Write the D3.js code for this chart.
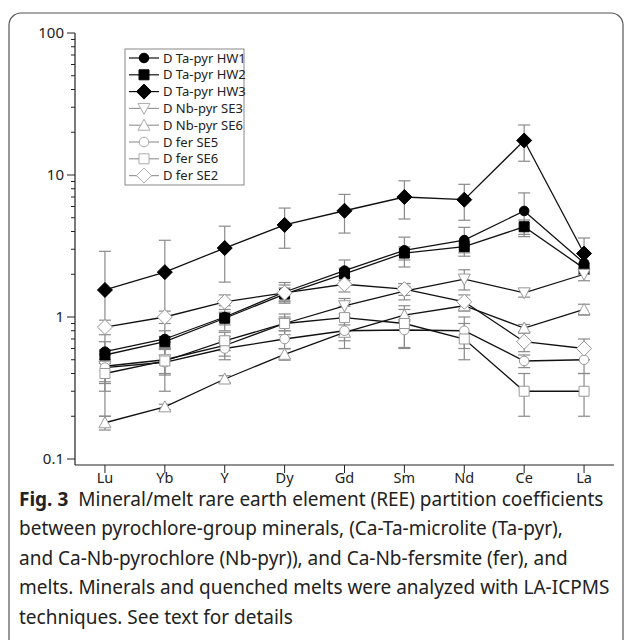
<!DOCTYPE html>
<html><head><meta charset="utf-8">
<script src="https://cdn.jsdelivr.net/npm/d3@7"></script>
<style>body{margin:0;background:#fff}svg{display:block}</style>
</head><body>
<script>
const elements = ["Lu","Yb","Y","Dy","Gd","Sm","Nd","Ce","La"];
const seriesNames = ["D Ta-pyr HW1","D Ta-pyr HW2","D Ta-pyr HW3","D Nb-pyr SE3","D Nb-pyr SE6","D fer SE5","D fer SE6","D fer SE2"];
const hw1 = [0.57,0.70,1.00,1.50,2.12,2.95,3.48,5.58,2.40];
const hw2 = [0.54,0.67,0.98,1.45,2.01,2.82,3.13,4.32,2.20];
const hw3 = [1.55,2.07,3.06,4.45,5.60,7.00,6.70,17.5,2.80];
const se3 = [0.45,0.50,0.63,0.90,1.20,1.52,1.85,1.48,2.00];
const se6nb = [0.18,0.233,0.366,0.546,0.78,1.03,1.20,0.836,1.13];
const ferSE5 = [0.44,0.48,0.60,0.70,0.80,0.81,0.80,0.49,0.50];
const ferSE6 = [0.40,0.49,0.68,0.90,0.99,0.90,0.70,0.30,0.30];
const ferSE2 = [0.85,1.00,1.28,1.48,1.70,1.57,1.28,0.67,0.60];
const errHW1 = [0.10,0.10,0.20,0.25,0.40,0.70,0.80,1.90,0.40];
const errHW2 = [0.05,0.06,0.10,0.15,0.20,0.30,0.30,0.50,0.20];
const errHW3 = [1.35,1.40,1.30,1.40,1.70,2.10,1.90,5.00,0.80];
const errSE3 = [0.10,0.10,0.10,0.15,0.15,0.20,0.30,0.10,0.20];
const errSE6nb = [0.02,0.01,0.02,0.05,0.10,0.10,0.10,0.05,0.10];
const errFerSE5 = [0.10,0.18,0.10,0.10,0.20,0.20,0.20,0.05,0.10];
const errFerSE6 = [0.10,0.10,0.10,0.10,0.20,0.30,0.20,0.10,0.10];
const errFerSE2 = [0.10,0.10,0.15,0.20,0.20,0.15,0.15,0.10,0.10];
const yTickLabels = ["0.1","1","10","100"];
const captionLines = [
  "Mineral/melt rare earth element (REE) partition coefficients",
  "between pyrochlore-group minerals, (Ca-Ta-microlite (Ta-pyr),",
  "and Ca-Nb-pyrochlore (Nb-pyr)), and Ca-Nb-fersmite (fer), and",
  "melts. Minerals and quenched melts were analyzed with LA-ICPMS",
  "techniques. See text for details"
];

const series = [
  {name:seriesNames[0], v:hw1, e:errHW1, sym:"circle", filled:true},
  {name:seriesNames[1], v:hw2, e:errHW2, sym:"square", filled:true},
  {name:seriesNames[2], v:hw3, e:errHW3, sym:"diamond", filled:true},
  {name:seriesNames[3], v:se3, e:errSE3, sym:"tdown", filled:false},
  {name:seriesNames[4], v:se6nb, e:errSE6nb, sym:"tup", filled:false},
  {name:seriesNames[5], v:ferSE5, e:errFerSE5, sym:"circle", filled:false},
  {name:seriesNames[6], v:ferSE6, e:errFerSE6, sym:"square", filled:false},
  {name:seriesNames[7], v:ferSE2, e:errFerSE2, sym:"diamond", filled:false}
];

const W=630,H=640;
const svg=d3.select("body").append("svg").attr("width",W).attr("height",H);
const font="'Noto Sans', 'Open Sans', sans-serif";

svg.append("rect").attr("x",9).attr("y",13).attr("width",614).attr("height",660)
  .attr("rx",12).attr("fill","none").attr("stroke","#555").attr("stroke-width",1.2);

const x=d3.scalePoint().domain(elements).range([75,614]).padding(0.5);
const y=d3.scaleLog().domain([0.1,100]).range([459,33]);
const axisX=75, axisY=465;

const g=svg.append("g");
g.append("line").attr("x1",axisX).attr("x2",axisX).attr("y1",y(100)).attr("y2",axisY).attr("stroke","#222").attr("stroke-width",1.2);
g.append("line").attr("x1",axisX).attr("x2",614).attr("y1",axisY).attr("y2",axisY).attr("stroke","#222").attr("stroke-width",1.2);
const majors=[0.1,1,10,100];
const minors=[];
[0.1,1,10].forEach(d=>{for(let k=2;k<=9;k++)minors.push(d*k);});
g.selectAll(".ymin").data(minors).enter().append("line")
  .attr("x1",axisX-4).attr("x2",axisX).attr("y1",d=>y(d)).attr("y2",d=>y(d)).attr("stroke","#222");
g.selectAll(".ymaj").data(majors).enter().append("line")
  .attr("x1",axisX-8).attr("x2",axisX).attr("y1",d=>y(d)).attr("y2",d=>y(d)).attr("stroke","#222");
g.selectAll(".ylab").data(majors).enter().append("text")
  .attr("x",axisX-11).attr("y",d=>y(d)).attr("dy","0.35em").attr("text-anchor","end")
  .attr("font-family",font).attr("font-size",15).attr("fill","#222").text((d,i)=>yTickLabels[i]);
g.selectAll(".xt").data(elements).enter().append("line")
  .attr("x1",d=>x(d)).attr("x2",d=>x(d)).attr("y1",axisY).attr("y2",axisY+8).attr("stroke","#222");
g.selectAll(".xl").data(elements).enter().append("text")
  .attr("x",d=>x(d)).attr("y",axisY+18).attr("text-anchor","middle")
  .attr("font-family",font).attr("font-size",14.5).attr("fill","#222").text(d=>d);

function symPath(sym){
  switch(sym){
    case "circle": return d3.symbol(d3.symbolCircle,72)();
    case "square": return "M-5,-5H5V5H-5Z";
    case "diamond": return "M0,-7.5L7.5,0L0,7.5L-7.5,0Z";
    case "tup": return "M0,-6L6,5H-6Z";
    case "tdown": return "M0,6L6,-5H-6Z";
  }
}
const line=d3.line().x((d,i)=>x(elements[i])).y(d=>y(d));
series.forEach(s=>{
  const eg=g.append("g").attr("stroke","#8a8a8a").attr("stroke-width",1.2);
  s.v.forEach((v,i)=>{
    const lo=Math.max(v-s.e[i],0.05), hi=v+s.e[i];
    const cx=x(elements[i]);
    eg.append("line").attr("x1",cx).attr("x2",cx).attr("y1",y(hi)).attr("y2",y(lo));
    eg.append("line").attr("x1",cx-6).attr("x2",cx+6).attr("y1",y(hi)).attr("y2",y(hi));
    eg.append("line").attr("x1",cx-6).attr("x2",cx+6).attr("y1",y(lo)).attr("y2",y(lo));
  });
});
series.forEach(s=>{
  g.append("path").datum(s.v).attr("d",line).attr("fill","none").attr("stroke","#111").attr("stroke-width",1.3);
});
series.forEach(s=>{
  g.selectAll(null).data(s.v).enter().append("path")
    .attr("transform",(d,i)=>`translate(${x(elements[i])},${y(d)})`)
    .attr("d",symPath(s.sym))
    .attr("fill",s.filled?"#000":"#fff")
    .attr("stroke",s.filled?"#000":"#999").attr("stroke-width",1);
});

const lg=svg.append("g");
lg.append("rect").attr("x",125).attr("y",49).attr("width",119).attr("height",136)
  .attr("fill","#fff").attr("stroke","#888").attr("stroke-width",1);
series.forEach((s,i)=>{
  const ly=58+i*16.8;
  lg.append("line").attr("x1",129).attr("x2",159).attr("y1",ly).attr("y2",ly)
    .attr("stroke",s.filled?"#111":"#999").attr("stroke-width",1.2);
  lg.append("path").attr("transform",`translate(144,${ly})`).attr("d",symPath(s.sym))
    .attr("fill",s.filled?"#000":"#fff").attr("stroke",s.filled?"#000":"#aaa");
  lg.append("text").attr("x",163).attr("y",ly).attr("dy","0.35em")
    .attr("font-family",font).attr("font-size",13).attr("fill","#222").text(s.name);
});

const cap=svg.append("g").attr("font-family",font).attr("font-size",19).attr("fill","#222");
const t0=cap.append("text").attr("x",19).attr("y",506);
t0.append("tspan").attr("font-weight","bold").text("Fig. 3");
t0.append("tspan").attr("dx",10).text(captionLines[0]);
captionLines.slice(1).forEach((l,i)=>{
  cap.append("text").attr("x",19).attr("y",535+i*29.5).text(l);
});
</script>
</body></html>
